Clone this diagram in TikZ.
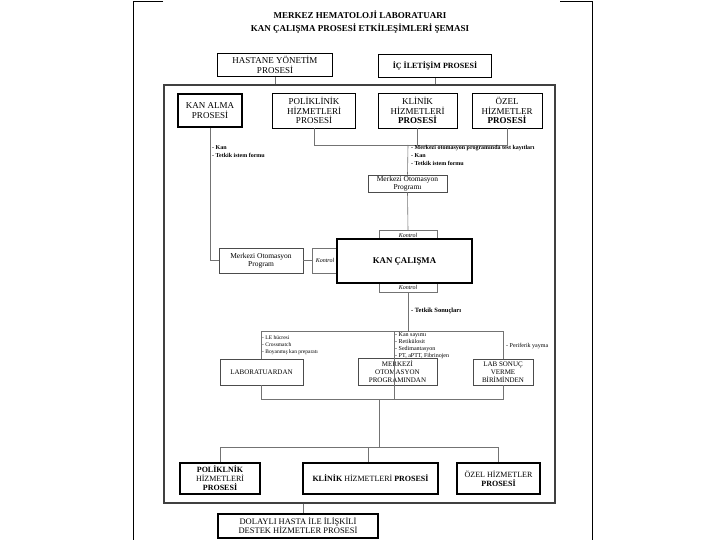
\documentclass[tikz,border=0pt]{standalone}
\usepackage{fontspec}
\setmainfont{Liberation Serif}

\tikzset{
  kutu/.style={draw=black, line width=0.9pt, align=center, inner sep=1pt,
    font=\fontsize{9}{9.5}\selectfont},
  kalin/.style={kutu, line width=1.8pt},
  ince/.style={draw=black!70, line width=0.6pt, align=center, inner sep=1pt,
    font=\fontsize{7}{8}\selectfont},
  kontrol/.style={ince, draw=black!55, font=\fontsize{6}{6.5}\selectfont\itshape},
  baglanti/.style={draw=black!55, line width=0.6pt},
  etiket/.style={anchor=north west, align=left, inner sep=0pt,
    font=\fontsize{6}{8}\selectfont\bfseries},
  etiketnormal/.style={anchor=north west, align=left, inner sep=0pt,
    font=\fontsize{6}{7.2}\selectfont},
}

\begin{document}
\begin{tikzpicture}[x=1pt,y=-1pt]
\useasboundingbox (0,0) rectangle (720,540);

% page edges
\draw[line width=0.8pt] (163,1) -- (133,1) -- (133,540);
\draw[line width=0.8pt] (560,1) -- (592,1) -- (592,540);

\node (baslik) at (360,22) [font=\fontsize{9}{12.5}\selectfont\bfseries, align=center]
  {MERKEZ HEMATOLOJİ LABORATUARI\\KAN ÇALIŞMA PROSESİ ETKİLEŞİMLERİ ŞEMASI};

% outer frame
\node[draw=black!75, line width=1.3pt, minimum width=391pt, minimum height=418pt] (cerceve) at (359.5,294) {};

% top processes
\node[kutu, minimum width=115pt, minimum height=23pt] (hys) at (275,65) {HASTANE YÖNETİM\\PROSESİ};
\node[kutu, minimum width=113pt, minimum height=23pt, font=\fontsize{8}{9}\selectfont\bfseries] (iip) at (435,66) {İÇ İLETİŞİM PROSESİ};
\draw[baglanti] (hys.south) -- (hys.south |- cerceve.north);
\draw[baglanti] (iip.south) -- (iip.south |- cerceve.north);

% second row
\node[kalin, minimum width=64pt, minimum height=33pt] (kan) at (210,110.5) {KAN ALMA\\PROSESİ};
\node[kutu, minimum width=83pt, minimum height=35pt] (pol) at (314,110.5) {POLİKLİNİK\\HİZMETLERİ\\PROSESİ};
\node[kutu, minimum width=79pt, minimum height=35pt] (kli) at (417.5,110.5) {KLİNİK\\HİZMETLERİ\\\textbf{PROSESİ}};
\node[kutu, minimum width=70pt, minimum height=35pt] (ozel) at (507,110.5) {ÖZEL\\HİZMETLER\\\textbf{PROSESİ}};

\coordinate (bus1) at (408,145);
\draw[baglanti] (pol.south) |- (ozel.south |- bus1) -- (ozel.south);
\draw[baglanti] (kli.south) -- (kli.south |- bus1);

\node[etiket] (kanetiket) at (212,145) {- Kan\\- Tetkik istem formu};
\node[etiket] (mopetiket) at (411,145) {- Merkezi otomasyon programında test kayıtları\\- Kan\\- Tetkik istem formu};

% central work
\node[ince, minimum width=79pt, minimum height=17pt, font=\fontsize{7.5}{8}\selectfont] (mop) at (407.5,183.5) {Merkezi Otomasyon\\Programı};
\node[kontrol, minimum width=58pt, minimum height=9pt] (kust) at (408,235) {Kontrol};
\node[kontrol, minimum width=58pt, minimum height=10pt] (kalt) at (408,287.5) {Kontrol};
\node[kontrol, minimum width=25pt, minimum height=25pt] (ksol) at (325,260.5) {Kontrol};
\node[kalin, fill=white, minimum width=135pt, minimum height=44pt, font=\fontsize{8.8}{10}\selectfont\bfseries] (kc) at (404.5,261) {KAN ÇALIŞMA};
\node[ince, minimum width=84pt, minimum height=25pt, font=\fontsize{7.5}{8.5}\selectfont] (mopl) at (261,260.5) {Merkezi Otomasyon\\Program};

\draw[baglanti] (bus1) -- (mop.north);
\draw[baglanti] (mop.south) -- (kust.north);
\draw[baglanti] (kan.south) |- (mopl.west);
\draw[baglanti] (mopl.east) -- (ksol.west);

\coordinate (bus2) at (408,331);
\draw[baglanti] (kalt.south) -- (bus2);
\node[etiket, anchor=west, font=\fontsize{6.5}{8}\selectfont\bfseries] (sonuc) at (411,311) {- Tetkik Sonuçları};

% results
\node[ince, minimum width=83pt, minimum height=26pt] (lab) at (261.5,372) {LABORATUARDAN};
\node[ince, minimum width=79pt, minimum height=27pt, font=\fontsize{7}{8}\selectfont] (mpd) at (397.5,371.5) {MERKEZİ\\OTOMASYON\\PROGRAMINDAN};
\node[ince, minimum width=60pt, minimum height=26pt, font=\fontsize{7}{8}\selectfont] (lsv) at (503,372) {LAB SONUÇ\\VERME\\BİRİMİNDEN};

\draw[baglanti] (lab.north) |- (lsv.north |- bus2) -- (lsv.north);
\coordinate (orta2) at (394,331);
\coordinate (bus3) at (379,399);
\draw[baglanti] (orta2) -- (orta2 |- bus3);
\draw[baglanti] (lab.south) |- (lsv.south |- bus3) -- (lsv.south);

\node[etiketnormal, font=\fontsize{5.5}{7}\selectfont] (labetiket) at (262,335) {- LE hücresi\\- Crossmatch\\- Boyanmış kan preparatı};
\node[etiketnormal] (mpdetiket) at (395,332) {- Kan sayımı\\- Retikülosit\\- Sedimantasyon\\- PT, aPTT, Fibrinojen};
\node[etiketnormal, anchor=west] (lsvetiket) at (506,346) {- Periferik yayma};

% receivers
\coordinate (bus4) at (379,447);
\draw[baglanti] (bus3) -- (bus4);
\node[kalin, line width=1.5pt, minimum width=80pt, minimum height=31pt, font=\fontsize{8}{9}\selectfont] (pk) at (220,478.5) {\textbf{POLİKLNİK}\\HİZMETLERİ\\\textbf{PROSESİ}};
\node[kalin, line width=1.5pt, minimum width=135pt, minimum height=31pt, font=\fontsize{8}{9}\selectfont] (kh) at (370.5,478.5) {\textbf{KLİNİK} HİZMETLERİ \textbf{PROSESİ}};
\node[kalin, line width=1.5pt, minimum width=83pt, minimum height=31pt, font=\fontsize{8}{9.5}\selectfont] (oh) at (498.5,478.5) {ÖZEL HİZMETLER\\\textbf{PROSESİ}};
\draw[baglanti] (pk.north) |- (oh.north |- bus4) -- (oh.north);
\draw[baglanti] ([xshift=-2.5pt]kh.north |- bus4) -- ([xshift=-2.5pt]kh.north);

\node[kutu, line width=1.2pt, minimum width=160pt, minimum height=24pt, font=\fontsize{8.5}{9}\selectfont] (dhp) at (298,526) {DOLAYLI HASTA İLE İLİŞKİLİ\\DESTEK HİZMETLER PROSESİ};
\draw[baglanti] ([xshift=5pt]dhp.north |- cerceve.south) -- ([xshift=5pt]dhp.north);
\end{tikzpicture}
\end{document}
